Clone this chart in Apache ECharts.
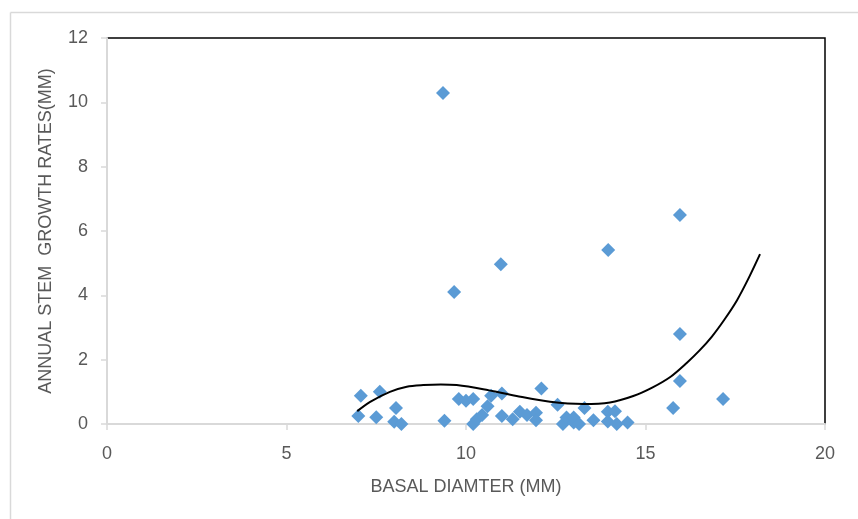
<!DOCTYPE html>
<html>
<head>
<meta charset="utf-8">
<script src="https://cdn.jsdelivr.net/npm/echarts@6/dist/echarts.min.js"></script>
<style>
  html, body { margin: 0; padding: 0; background: #fff; }
  #chart { width: 858px; height: 519px; }
</style>
</head>
<body>
<div id="chart"></div>
<script>
// Basal diameter (mm) of each sampled stem and its annual growth rate (mm)
const basalDiameter = [
  7.0, 7.07, 7.5, 7.6, 8.05, 8.0, 8.2, 9.4, 9.36, 9.67,
  9.8, 10.0, 10.2, 10.2, 10.3, 10.45, 10.6, 10.7, 11.0, 10.97,
  11.0, 11.3, 11.5, 11.7, 11.95, 11.95, 12.1, 12.55, 12.7, 12.8,
  13.0, 13.0, 13.15, 13.3, 13.55, 13.95, 13.96, 13.95, 14.15, 14.2,
  14.5, 15.77, 15.96, 15.96, 15.96, 17.16
];
const growthRate = [
  0.25, 0.88, 0.21, 1.0, 0.5, 0.07, 0.0, 0.1, 10.29, 4.1,
  0.78, 0.72, 0.78, 0.0, 0.15, 0.28, 0.55, 0.88, 0.95, 4.97,
  0.25, 0.15, 0.38, 0.28, 0.35, 0.12, 1.1, 0.6, 0.0, 0.2,
  0.05, 0.2, 0.0, 0.5, 0.12, 0.38, 5.41, 0.08, 0.4, 0.0,
  0.05, 0.5, 6.5, 2.8, 1.34, 0.78
];

// Polynomial trend line, sampled along its course
const trendX = [6.97, 7.33, 7.88, 8.35, 8.81, 9.3, 9.74, 10.48, 11.41, 12.34, 13.27, 14.01, 14.66, 15.2, 15.7, 16.14, 16.5, 16.85, 17.2, 17.55, 17.88, 18.19];
const trendY = [0.40, 0.69, 1.00, 1.16, 1.21, 1.23, 1.21, 1.08, 0.87, 0.69, 0.62, 0.67, 0.87, 1.14, 1.47, 1.89, 2.28, 2.72, 3.25, 3.85, 4.55, 5.28];

// Axis tick values
const xTicks = [0, 5, 10, 15, 20];
const yTicks = [0, 2, 4, 6, 8, 10, 12];

const points = basalDiameter.map((x, i) => [x, growthRate[i]]);
const trend = trendX.map((x, i) => [x, trendY[i]]);

const axisGray = '#d9d9d9';
const textGray = '#595959';
const font = 'Liberation Sans, Arial, sans-serif';

const chart = echarts.init(document.getElementById('chart'), null, { renderer: 'canvas' });
chart.setOption({
  animation: false,
  backgroundColor: '#ffffff',
  graphic: [
    { type: 'line', shape: { x1: 10.5, y1: 12.5, x2: 858, y2: 12.5 }, style: { stroke: axisGray, lineWidth: 1.5 }, silent: true },
    { type: 'line', shape: { x1: 10.5, y1: 12.5, x2: 10.5, y2: 519 }, style: { stroke: axisGray, lineWidth: 1.5 }, silent: true }
  ],
  grid: {
    left: 107, right: 33, top: 38, bottom: 95,
    show: true, borderColor: '#000000', borderWidth: 1.5, backgroundColor: 'transparent'
  },
  xAxis: {
    type: 'value',
    min: xTicks[0], max: xTicks[xTicks.length - 1], interval: 5,
    name: 'BASAL DIAMTER (MM)',
    nameLocation: 'middle', nameGap: 54,
    nameTextStyle: { color: textGray, fontSize: 18, fontFamily: font },
    axisLine: { show: true, lineStyle: { color: axisGray, width: 2 } },
    axisTick: { show: true, length: 6, lineStyle: { color: axisGray, width: 1.5 } },
    axisLabel: { color: textGray, fontSize: 18, margin: 21, fontFamily: font },
    splitLine: { show: false }
  },
  yAxis: {
    type: 'value',
    min: yTicks[0], max: yTicks[yTicks.length - 1], interval: 2,
    name: 'ANNUAL STEM  GROWTH RATES(MM)',
    nameLocation: 'middle', nameGap: 52,
    nameTextStyle: { color: textGray, fontSize: 18, fontFamily: font },
    axisLine: { show: true, lineStyle: { color: axisGray, width: 2 } },
    axisTick: { show: true, length: 6, lineStyle: { color: axisGray, width: 1.5 } },
    axisLabel: { color: textGray, fontSize: 18, margin: 19, fontFamily: font },
    splitLine: { show: false }
  },
  series: [
    {
      type: 'scatter',
      data: points,
      symbol: 'diamond',
      symbolSize: 14,
      itemStyle: { color: '#5b9bd5', opacity: 1 },
      z: 2
    },
    {
      type: 'line',
      data: trend,
      smooth: 0.3,
      showSymbol: false,
      lineStyle: { color: '#000000', width: 2 },
      z: 3
    }
  ]
});
</script>
</body>
</html>
